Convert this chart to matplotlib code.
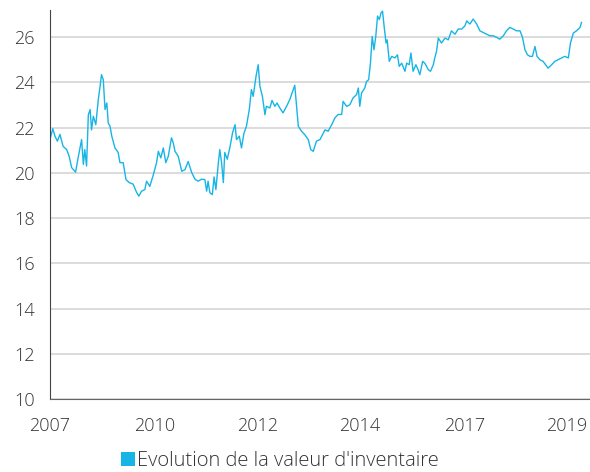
import matplotlib.pyplot as plt
from matplotlib.patches import Patch

# months since the start of 2007 and net asset value
mois = [0.0, 0.8, 1.4, 2.1, 2.8, 3.7, 4.7, 5.4, 6.1, 7.2, 8.0, 8.9, 9.4, 9.8, 10.3,
        10.8, 11.3, 11.7, 12.2, 12.9, 13.6, 14.1, 14.5, 15.0, 15.5, 16.0, 16.4, 16.9,
        17.4, 18.3, 19.2, 19.7, 20.6, 21.4, 22.3, 23.4, 24.4, 25.0, 25.8, 26.7, 27.2,
        28.1, 29.1, 30.0, 30.5, 31.2, 31.9, 32.6, 33.3, 34.2, 34.7, 35.2, 36.1, 37.1,
        38.0, 38.9, 39.9, 40.8, 41.7, 42.7, 43.6, 44.1, 44.5, 45.0, 45.7, 46.2, 46.7,
        47.4, 47.8, 48.3, 48.8, 49.2, 49.9, 50.7, 51.4, 52.1, 52.5, 53.3, 53.9, 54.6,
        55.3, 56.1, 56.7, 57.2, 58.0, 58.6, 59.1, 59.8, 60.5, 60.9, 61.9, 62.5, 63.3,
        63.9, 64.7, 65.6, 66.6, 67.5, 68.5, 68.9, 69.4, 69.9, 70.8, 71.7, 72.7, 73.4,
        74.1, 75.0, 76.0, 77.4, 78.3, 79.3, 80.2, 81.1, 82.1, 82.5, 83.5, 84.4, 85.3,
        86.3, 86.8, 87.2, 87.7, 88.6, 89.1, 89.7, 90.2, 90.7, 91.2, 91.7, 92.2, 92.7,
        93.2, 93.6, 94.1, 94.6, 94.9, 95.5, 96.2, 97.1, 97.8, 98.3, 99.0, 99.9, 100.4,
        101.1, 101.6, 102.2, 103.0, 103.6, 104.1, 104.9, 105.5, 106.5, 107.1, 107.9,
        108.3, 108.8, 109.3, 110.2, 111.2, 112.1, 113.0, 114.0, 114.9, 115.9, 116.8,
        117.3, 118.2, 119.1, 120.1, 121.0, 121.9, 122.9, 123.8, 124.8, 125.7, 126.6,
        127.6, 128.5, 129.4, 130.4, 131.3, 132.3, 133.0, 133.7, 134.4, 135.1, 135.8,
        136.5, 137.1, 137.9, 138.8, 139.8, 140.2, 141.2, 142.1, 143.0, 144.0, 144.9,
        145.9, 146.5, 147.3, 148.2, 149.2, 149.6]
valeur = [21.47, 21.95, 21.62, 21.4, 21.7, 21.17, 21.03, 20.73, 20.23, 20.03, 20.73,
          21.47, 20.37, 21.03, 20.3, 22.57, 22.8, 21.9, 22.5, 22.13, 23.24, 23.82, 24.34,
          24.12, 22.8, 23.09, 22.2, 22.06, 21.62, 21.1, 20.9, 20.45, 20.45, 19.7, 19.57,
          19.5, 19.13, 18.97, 19.19, 19.26, 19.63, 19.4, 19.92, 20.45, 20.95, 20.66,
          21.1, 20.45, 20.73, 21.55, 21.32, 20.95, 20.73, 20.07, 20.14, 20.5, 20.01,
          19.72, 19.63, 19.72, 19.7, 19.19, 19.63, 19.12, 19.04, 19.82, 19.26, 20.45,
          21.03, 20.45, 19.57, 20.9, 20.6, 21.17, 21.78, 22.13, 21.47, 21.62, 21.1,
          21.75, 22.06, 22.8, 23.68, 23.38, 24.27, 24.78, 23.82, 23.38, 22.57, 22.94,
          22.87, 23.2, 22.94, 23.09, 22.87, 22.65, 22.94, 23.24, 23.68, 23.87, 22.94,
          22.06, 21.84, 21.69, 21.47, 21.03, 20.95, 21.4, 21.47, 21.9, 21.84, 22.13,
          22.43, 22.58, 22.58, 23.16, 22.94, 23.01, 23.31, 23.46, 23.75, 22.94, 23.53,
          23.75, 24.04, 24.12, 24.85, 26.03, 25.44, 26.03, 26.93, 26.78, 27.08, 27.15,
          26.41, 25.74, 25.88, 24.93, 25.15, 25.08, 25.22, 24.71, 24.85, 24.49, 24.85,
          24.78, 25.3, 24.49, 24.78, 24.56, 24.34, 24.93, 24.85, 24.56, 24.49, 24.78,
          25.08, 25.37, 25.96, 25.74, 25.96, 25.88, 26.28, 26.13, 26.36, 26.36, 26.5,
          26.72, 26.58, 26.8, 26.58, 26.28, 26.21, 26.13, 26.06, 26.06, 25.99, 25.91,
          26.06, 26.28, 26.43, 26.36, 26.28, 26.28, 25.99, 25.44, 25.22, 25.15, 25.15,
          25.59, 25.15, 25.0, 24.93, 24.71, 24.63, 24.78, 24.93, 25.0, 25.08, 25.15,
          25.08, 25.74, 26.18, 26.28, 26.43, 26.65]

tick_mois = [0, 29.5, 58.5, 87.2, 116.8, 145.5]
tick_annees = ['2007', '2010', '2012', '2014', '2017', '2019']
y_ticks = [10, 12, 14, 16, 18, 20, 22, 24, 26]

couleur = '#17b5e5'
texte = '#333333'

plt.rcParams['font.family'] = ['Open Sans', 'DejaVu Sans']
plt.rcParams['font.weight'] = 'light'

fig = plt.figure(figsize=(5.9, 4.72), dpi=100)
ax = fig.add_axes([0.0847, 0.1547, 0.9153, 0.8241])

ax.plot(mois, valeur, color=couleur, linewidth=1.0)

ax.set_xlim(0, 152)
ax.set_ylim(10, 27.2)
ax.set_yticks(y_ticks)
ax.set_xticks(tick_mois)
ax.set_xticklabels(tick_annees)

ax.grid(axis='y', color='#d9d9d9', linewidth=1.3)
ax.set_axisbelow(True)
ax.tick_params(length=0, labelsize=13, labelcolor=texte)
ax.tick_params(axis='x', pad=13)
ax.tick_params(axis='y', pad=11)

for side in ['top', 'right']:
    ax.spines[side].set_visible(False)
ax.spines['left'].set_color('#444444')
ax.spines['bottom'].set_color('#666666')

handle = Patch(facecolor=couleur, edgecolor='none')
fig.legend([handle], ["Evolution de la valeur d'inventaire"], loc='center',
           bbox_to_anchor=(0.474, 0.024), frameon=False, fontsize=14.5,
           handlelength=0.7, handleheight=0.7, handletextpad=0.12, labelcolor=texte)

plt.savefig('out.png', dpi=100)
